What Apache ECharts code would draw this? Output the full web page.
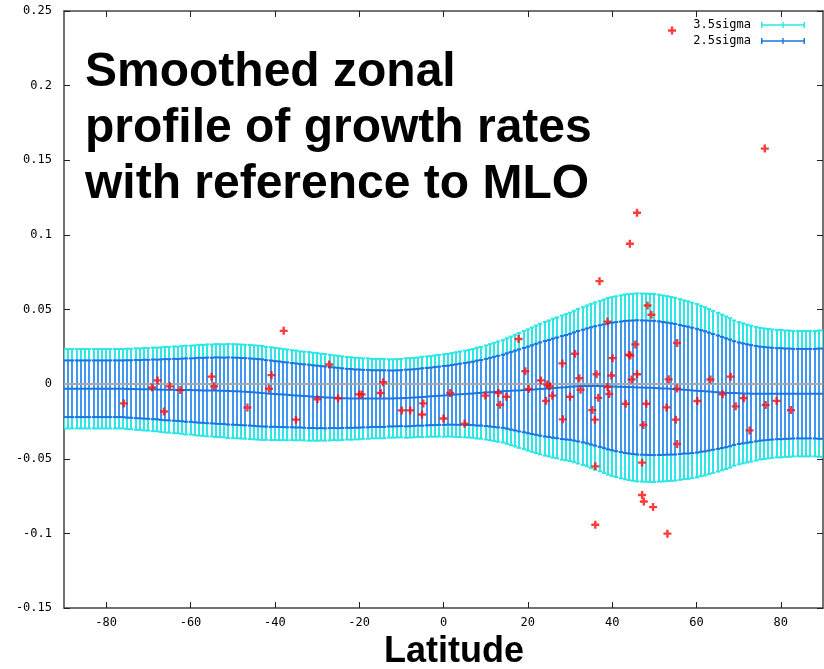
<!DOCTYPE html>
<html>
<head>
<meta charset="utf-8">
<script src="https://cdn.jsdelivr.net/npm/echarts@6/dist/echarts.min.js"></script>
<style>html,body{margin:0;padding:0;background:#fff}#c{width:824px;height:669px}</style>
</head>
<body>
<div id="c"></div>
<script>
// ---- data ----
const latStart = -90; // profile sampled every 1 degree from -90 to 90
const profileCenter = [
-0.0031,-0.0031,-0.0031,-0.0031,-0.0031,-0.0031,-0.0031,-0.0031,-0.0031,-0.0031,-0.0031,-0.0031,-0.0031,-0.0031,-0.0031,
-0.0032,-0.0033,-0.0033,-0.0034,-0.0034,-0.0035,-0.0035,-0.0036,-0.0037,-0.0037,
-0.0038,-0.0038,-0.0039,-0.0039,-0.0040,-0.0040,-0.0041,-0.0041,-0.0042,-0.0042,
-0.0043,-0.0043,-0.0044,-0.0045,-0.0046,-0.0047,-0.0048,-0.0050,-0.0051,-0.0053,
-0.0055,-0.0057,-0.0059,-0.0062,-0.0064,-0.0066,-0.0068,-0.0070,-0.0072,-0.0074,
-0.0076,-0.0078,-0.0080,-0.0082,-0.0084,-0.0086,-0.0087,-0.0089,-0.0090,-0.0091,
-0.0093,-0.0094,-0.0095,-0.0096,-0.0097,-0.0097,-0.0097,-0.0097,-0.0097,-0.0097,
-0.0097,-0.0097,-0.0096,-0.0096,-0.0095,-0.0094,-0.0093,-0.0092,-0.0090,-0.0088,
-0.0086,-0.0084,-0.0082,-0.0080,-0.0078,-0.0076,-0.0074,-0.0072,-0.0070,-0.0068,
-0.0066,-0.0064,-0.0062,-0.0060,-0.0058,-0.0056,-0.0054,-0.0052,-0.0050,-0.0048,
-0.0046,-0.0045,-0.0043,-0.0042,-0.0040,-0.0039,-0.0037,-0.0035,-0.0033,-0.0031,
-0.0029,-0.0027,-0.0025,-0.0023,-0.0021,-0.0018,-0.0016,-0.0014,-0.0013,-0.0012,
-0.0012,-0.0012,-0.0013,-0.0014,-0.0015,-0.0016,-0.0017,-0.0018,-0.0019,-0.0020,
-0.0021,-0.0022,-0.0023,-0.0024,-0.0025,-0.0026,-0.0027,-0.0029,-0.0030,-0.0032,
-0.0034,-0.0036,-0.0038,-0.0040,-0.0042,-0.0044,-0.0046,-0.0048,-0.0050,-0.0052,
-0.0054,-0.0056,-0.0058,-0.0059,-0.0060,-0.0061,-0.0062,-0.0063,-0.0064,-0.0064,
-0.0064,-0.0064,-0.0064,-0.0064,-0.0064,-0.0064,-0.0064,-0.0064,-0.0064,-0.0064,-0.0064,-0.0064,-0.0064,-0.0064,-0.0064,-0.0064
];
const profileSigma = [
0.0076,0.0076,0.0076,0.0076,0.0076,0.0076,0.0076,0.0076,0.0076,0.0076,0.0076,0.0076,0.0076,0.0076,0.0076,
0.0077,0.0077,0.0078,0.0078,0.0079,0.0079,0.0080,0.0080,0.0081,0.0082,
0.0082,0.0083,0.0083,0.0084,0.0085,0.0085,0.0086,0.0087,0.0087,0.0088,
0.0088,0.0089,0.0089,0.0089,0.0090,0.0090,0.0090,0.0090,0.0090,0.0090,
0.0090,0.0090,0.0090,0.0089,0.0089,0.0088,0.0088,0.0087,0.0087,0.0086,
0.0086,0.0085,0.0085,0.0085,0.0084,0.0084,0.0083,0.0083,0.0082,0.0081,
0.0081,0.0080,0.0079,0.0079,0.0078,0.0078,0.0077,0.0077,0.0076,0.0076,
0.0076,0.0076,0.0075,0.0075,0.0075,0.0075,0.0076,0.0076,0.0076,0.0076,
0.0077,0.0077,0.0077,0.0078,0.0078,0.0079,0.0079,0.0080,0.0081,0.0082,
0.0083,0.0084,0.0085,0.0087,0.0088,0.0090,0.0092,0.0094,0.0096,0.0098,
0.0101,0.0104,0.0107,0.0110,0.0113,0.0116,0.0119,0.0122,0.0125,0.0128,
0.0130,0.0133,0.0135,0.0138,0.0140,0.0142,0.0145,0.0148,0.0151,0.0154,
0.0157,0.0160,0.0163,0.0166,0.0169,0.0171,0.0173,0.0175,0.0177,0.0178,
0.0179,0.0180,0.0180,0.0180,0.0180,0.0180,0.0179,0.0178,0.0177,0.0176,
0.0175,0.0173,0.0171,0.0170,0.0168,0.0166,0.0163,0.0161,0.0158,0.0155,
0.0152,0.0149,0.0146,0.0143,0.0139,0.0136,0.0134,0.0132,0.0130,0.0128,
0.0126,0.0125,0.0124,0.0123,0.0122,0.0122,0.0121,0.0121,0.0120,0.0120,
0.0120,0.0120,0.0120,0.0120,0.0121,0.0121
];
const ptLat = [-75.8,-69.1,-67.8,-66.3,-64.9,-62.4,-55.0,-54.4,-46.5,-41.4,-40.8,-37.9,-35.0,-29.9,-27.1,-25.0,-20.0,-19.4,-14.9,-14.3,
 -9.9,-7.9,-4.8,-5.1,0.0,1.6,5.0,9.9,13.0,13.4,14.9,17.8,19.4,20.2,23.1,24.3,24.6,25.2,25.8,28.2,
 28.3,30.0,31.2,32.2,32.5,35.3,35.9,36.0,36.0,36.3,36.7,37.0,38.9,38.9,39.3,39.8,40.1,43.2,44.0,44.3,
 44.2,44.6,45.5,45.9,45.9,47.1,47.1,47.4,47.5,48.1,48.4,49.3,49.7,52.9,53.1,53.4,54.2,55.4,55.4,55.1,
 55.4,60.2,63.3,66.2,68.1,69.3,71.2,72.6,76.2,76.4,79.0,82.4];
const ptVal = [-0.0129,-0.0023,0.0025,-0.0183,-0.0015,-0.0040,0.0050,-0.0015,-0.0157,-0.0031,0.0060,0.0357,-0.0238,-0.0101,0.0131,-0.0095,-0.0069,-0.0069,-0.0059,0.0013,
 -0.0176,-0.0176,-0.0129,-0.0204,-0.0230,-0.0059,-0.0265,-0.0077,-0.0059,-0.0138,-0.0085,0.0302,0.0086,-0.0033,0.0025,-0.0112,-0.0003,-0.0015,-0.0077,0.0139,
 -0.0236,-0.0085,0.0204,0.0039,-0.0038,-0.0174,-0.0238,-0.0551,-0.0942,0.0066,-0.0092,0.0690,0.0419,-0.0020,-0.0066,0.0058,0.0174,-0.0131,0.0197,0.0192,
 0.0941,0.0031,0.0266,0.0066,0.1148,-0.0526,-0.0743,-0.0274,-0.0786,-0.0131,0.0527,0.0465,-0.0824,-0.0156,-0.1002,0.0032,0.2369,0.0276,-0.0030,-0.0238,
 -0.0401,-0.0113,0.0031,-0.0068,0.0050,-0.0149,-0.0094,-0.0310,0.1578,-0.0140,-0.0112,-0.0174];
const xTickValues = [-80,-60,-40,-20,0,20,40,60,80];
const yTickValues = [-0.15,-0.1,-0.05,0,0.05,0.1,0.15,0.2,0.25];
const k35 = 3.5, k25 = 2.5;

// ---- build series data ----
const lat = profileCenter.map((_, i) => latStart + i);
const band35 = lat.map((x, i) => [x, profileCenter[i] - k35 * profileSigma[i], profileCenter[i] + k35 * profileSigma[i]]);
const band25 = lat.map((x, i) => [x, profileCenter[i] - k25 * profileSigma[i], profileCenter[i] + k25 * profileSigma[i]]);
const centerLine = lat.map((x, i) => [x, profileCenter[i]]);
const points = ptLat.map((x, i) => [x, ptVal[i]]);

const CYAN = '#2ee6e6', BLUE = '#3f98f2', BLUE_EDGE = '#1d74e2';

function errRender(barColor, capColor) {
  return function (params, api) {
    const x = api.value(0), lo = api.value(1), hi = api.value(2);
    const a = api.coord([x, lo]), b = api.coord([x, hi]);
    const px = Math.round(a[0]), w = 2.2;
    return { type: 'group', children: [
      { type: 'line', shape: { x1: px, y1: a[1], x2: px, y2: b[1] }, style: { stroke: barColor, lineWidth: 2 } },
      { type: 'line', shape: { x1: px - w, y1: a[1], x2: px + w, y2: a[1] }, style: { stroke: capColor, lineWidth: 2 } },
      { type: 'line', shape: { x1: px - w, y1: b[1], x2: px + w, y2: b[1] }, style: { stroke: capColor, lineWidth: 2 } }
    ]};
  };
}

const monoFont = '"DejaVu Sans Mono", "Liberation Mono", monospace';
const fmtY = v => String(+(+v).toFixed(2));
const axisLineStyle = { color: '#444', width: 1.5 };
const tickStyle = { color: '#222', width: 1 };
const errIcon = 'path://M0,0H1.5V6H0Z M0,2.3H44V3.7H0Z M42.5,0H44V6H42.5Z M21.3,0H22.7V6H21.3Z';
const plusSym = 'path://M-0.9,-3H0.9V-0.9H3V0.9H0.9V3H-0.9V0.9H-3V-0.9H-0.9Z';

const chart = echarts.init(document.getElementById('c'), null, { renderer: 'canvas' });
chart.setOption({
  animation: false,
  backgroundColor: '#fff',
  grid: { left: 64, right: 1, top: 11, bottom: 61, containLabel: false },
  legend: {
    orient: 'vertical', right: 14, top: 13, align: 'right',
    itemWidth: 44, itemHeight: 6, itemGap: 2,
    textStyle: { fontFamily: monoFont, fontSize: 12, color: '#000', lineHeight: 14, padding: [0, 5, 0, 0] },
    data: [ { name: '3.5sigma', icon: errIcon }, { name: '2.5sigma', icon: errIcon } ],
    selectedMode: false
  },
  xAxis: [
    { type: 'value', min: -90, max: 90, position: 'bottom',
      axisLine: { show: true, onZero: false, lineStyle: axisLineStyle },
      axisTick: { show: true, inside: true, length: 6, customValues: xTickValues, lineStyle: tickStyle },
      axisLabel: { customValues: xTickValues, fontFamily: monoFont, fontSize: 12, color: '#000', margin: 9 },
      splitLine: { show: false } },
    { type: 'value', min: -90, max: 90, position: 'top',
      axisLine: { show: true, onZero: false, lineStyle: axisLineStyle },
      axisTick: { show: true, inside: true, length: 6, customValues: xTickValues, lineStyle: tickStyle },
      axisLabel: { show: false }, splitLine: { show: false } }
  ],
  yAxis: [
    { type: 'value', min: -0.15, max: 0.25, position: 'left',
      axisLine: { show: true, onZero: false, lineStyle: axisLineStyle },
      axisTick: { show: true, inside: true, length: 6, customValues: yTickValues, lineStyle: tickStyle },
      axisLabel: { customValues: yTickValues, formatter: fmtY, fontFamily: monoFont, fontSize: 12, color: '#000', margin: 12 },
      splitLine: { show: false } },
    { type: 'value', min: -0.15, max: 0.25, position: 'right',
      axisLine: { show: true, onZero: false, lineStyle: axisLineStyle },
      axisTick: { show: true, inside: true, length: 6, customValues: yTickValues, lineStyle: tickStyle },
      axisLabel: { show: false }, splitLine: { show: false } }
  ],
  series: [
    { name: '3.5sigma', type: 'custom', renderItem: errRender(CYAN, CYAN), data: band35,
      encode: { x: 0, y: [1, 2] }, itemStyle: { color: CYAN }, z: 1, clip: true, silent: true },
    { name: '2.5sigma', type: 'custom', renderItem: errRender(BLUE, BLUE_EDGE), data: band25,
      encode: { x: 0, y: [1, 2] }, itemStyle: { color: BLUE_EDGE }, z: 2, clip: true, silent: true },
    { name: 'zero', type: 'line', data: [], z: 3, silent: true,
      markLine: { silent: true, symbol: 'none', label: { show: false },
        lineStyle: { color: '#a8a8a8', width: 2, type: 'solid' }, data: [{ yAxis: 0 }] } },
    { name: 'profile', type: 'line', data: centerLine, showSymbol: false, z: 4, silent: true,
      lineStyle: { color: BLUE_EDGE, width: 2 } },
    { name: 'data', type: 'scatter', data: points, symbol: plusSym, symbolSize: 8, z: 5, silent: true,
      itemStyle: { color: '#ff0a0a' } }
  ],
  graphic: [
    { type: 'text', left: 85, top: 45, z: 10,
      style: { text: 'Smoothed zonal\nprofile of growth rates\nwith reference to MLO',
        font: 'bold 48px "Liberation Sans", Arial, sans-serif', fill: '#000', lineHeight: 56 } },
    { type: 'text', left: 384, top: 634, z: 10,
      style: { text: 'Latitude', font: 'bold 36px "Liberation Sans", Arial, sans-serif', fill: '#000' } }
  ]
});
</script>
</body>
</html>
